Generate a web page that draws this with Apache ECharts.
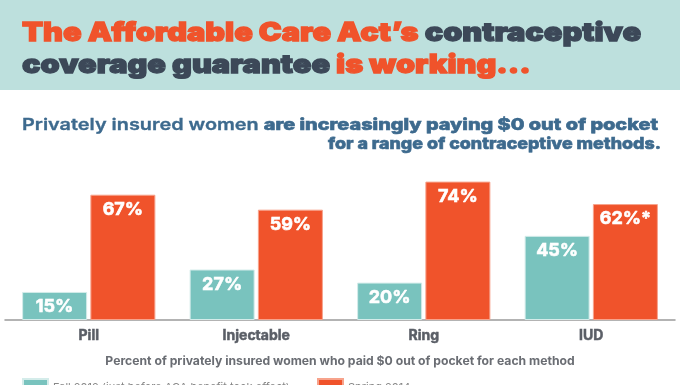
<!DOCTYPE html>
<html><head><meta charset="utf-8">
<script src="https://cdn.jsdelivr.net/npm/echarts@6/dist/echarts.min.js"></script>
<style>html,body{margin:0;padding:0;background:#fff}#c{width:680px;height:385px}</style>
</head><body><div id="c"></div>
<script>
var categories = ['Pill', 'Injectable', 'Ring', 'IUD'];
var fall2012 = [15, 27, 20, 45];
var spring2014 = [67, 59, 74, 62];
var springNotes = ['', '', '', '*'];
var seriesNames = ['Fall 2012 (just before ACA benefit took effect)', 'Spring 2014'];
var axisTitle = 'Percent of privately insured women who paid $0 out of pocket for each method';

var ORANGE = '#f0532b', TEAL = '#79c3be', NAVY = '#3c4858', BLUE = '#3d6a8e';
var TF = 'Inter';

var mctx = document.createElement('canvas').getContext('2d');
function measure(t, font) { mctx.font = font; return mctx.measureText(t).width; }

// segments: [text, color, font, strokeWidth]
function textLine(segs, x, y, targetW, alignRight) {
  var children = [], cx = 0;
  segs.forEach(function (s) {
    var st = {text: s[0], fill: s[1], font: s[2], verticalAlign: 'top'};
    if (s[3]) { st.stroke = s[1]; st.lineWidth = s[3]; }
    children.push({type: 'text', x: cx, y: 0, style: st});
    cx += measure(s[0], s[2]);
  });
  return {type: 'group', x: alignRight ? x - targetW : x, y: y, scaleX: targetW / cx, children: children};
}

var T1 = '900 26px Inter';
var S1 = '600 16px Inter', S2 = '800 16px Inter';
var titleScale = 619 / measure('The Affordable Care Act\u2019s contraceptive', T1);
var line2W = measure('coverage guarantee is working...', T1) * titleScale;

var graphics = [
  {type: 'rect', shape: {x: 0, y: 0, width: 680, height: 90}, style: {fill: '#bde0dd'}, z: -10},
  textLine([['The Affordable Care Act\u2019s ', ORANGE, T1, 1.3], ['contraceptive', NAVY, T1, 1.3]], 22, 20, 619),
  textLine([['coverage guarantee ', NAVY, T1, 1.3], ['is working...', ORANGE, T1, 1.3]], 22, 52, line2W),
  textLine([['Privately insured women ', BLUE, S1, 0.3], ['are increasingly paying $0 out of pocket', BLUE, S2, 0.6]], 22, 117, 636),
  textLine([['for a range of contraceptive methods.', BLUE, S2, 0.6]], 661, 136, 333, true)
];

var chart = echarts.init(document.getElementById('c'), null, {renderer: 'canvas'});
var legendText = {color: '#888', fontSize: 11, fontFamily: TF};
chart.setOption({
  animation: false,
  graphic: graphics,
  legend: [{
    left: 22, top: 378, padding: 0, itemWidth: 25, itemHeight: 18, icon: 'rect',
    data: [seriesNames[0]], textStyle: legendText
  }, {
    left: 317, top: 378, padding: 0, itemWidth: 25, itemHeight: 18, icon: 'rect',
    data: [seriesNames[1]], textStyle: legendText
  }],
  grid: {left: 5, right: 5, top: 133, bottom: 65},
  xAxis: {
    type: 'category', data: categories,
    axisLine: {lineStyle: {color: '#9a9a9a', width: 1.5}},
    axisTick: {show: false},
    axisLabel: {color: '#5a5e66', fontWeight: 'bold', fontSize: 14, fontFamily: TF, margin: 9,
      textBorderColor: '#5a5e66', textBorderWidth: 0.5},
    name: axisTitle, nameLocation: 'middle', nameGap: 35,
    nameTextStyle: {color: '#6a6d73', fontWeight: 'bold', fontSize: 12.2, fontFamily: TF}
  },
  yAxis: {type: 'value', min: 0, max: 100, show: false},
  series: [{
    name: seriesNames[0], type: 'bar', data: fall2012, barWidth: 65, barGap: '5%',
    itemStyle: {color: TEAL, borderColor: '#d4ecea', borderWidth: 1},
    label: {show: true, position: 'insideTop', distance: 6, color: '#fff', fontWeight: 'bold', fontSize: 18, fontFamily: TF,
      textBorderColor: '#fff', textBorderWidth: 0.6, formatter: '{c}%'}
  }, {
    name: seriesNames[1], type: 'bar', data: spring2014, barWidth: 65,
    itemStyle: {color: ORANGE, borderColor: '#f7a38c', borderWidth: 1},
    label: {show: true, position: 'insideTop', distance: 6, color: '#fff', fontWeight: 'bold', fontSize: 18, fontFamily: TF,
      textBorderColor: '#fff', textBorderWidth: 0.6,
      formatter: function (p) { return p.value + '%' + springNotes[p.dataIndex]; }}
  }]
});
</script></body></html>
